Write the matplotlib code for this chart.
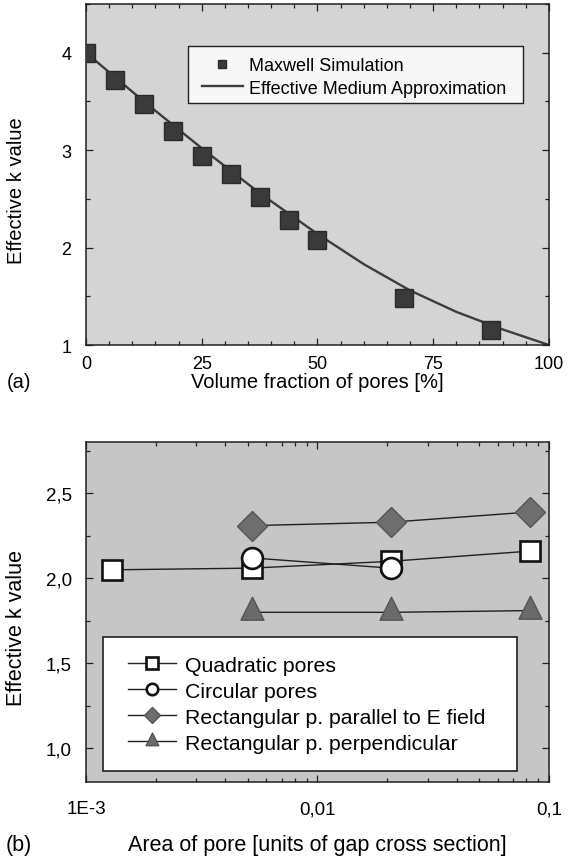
import matplotlib
matplotlib.use("Agg")
import matplotlib.pyplot as plt
from matplotlib.patches import Rectangle
from matplotlib.path import Path
from matplotlib.ticker import MultipleLocator, FixedLocator, FuncFormatter, LogLocator, NullFormatter

plt.rcParams['font.family'] = ['Liberation Sans', 'DejaVu Sans']

# --- (a) effective k vs volume fraction ---
vol_frac = [0, 6.25, 12.5, 18.75, 25, 31.25, 37.5, 43.75, 50, 68.75, 87.5]
k_maxwell = [4.0, 3.72, 3.47, 3.20, 2.94, 2.76, 2.52, 2.28, 2.08, 1.48, 1.15]
ema_frac = [0, 6.25, 12.5, 18.75, 25, 31.25, 37.5, 43.75, 50, 60, 70, 80, 90, 100]
k_ema = [4.0, 3.75, 3.50, 3.26, 3.02, 2.79, 2.56, 2.35, 2.14, 1.83, 1.56, 1.34, 1.16, 1.0]

# --- (b) effective k vs pore area ---
area_quad = [0.0013, 0.0052, 0.0207, 0.0827]
k_quad = [2.05, 2.06, 2.10, 2.16]
area_circ = [0.0052, 0.0207]
k_circ = [2.12, 2.06]
area_rect = [0.0052, 0.0207, 0.0827]
k_par = [2.31, 2.33, 2.39]
k_perp = [1.80, 1.80, 1.81]

# triangle anchored at its centroid (like the original software draws it)
tri = Path([(0, 1.33), (-1, -0.67), (1, -0.67), (0, 1.33)],
           [Path.MOVETO, Path.LINETO, Path.LINETO, Path.CLOSEPOLY])

fig = plt.figure(figsize=(5.68, 8.62), dpi=100)
ax1 = fig.add_axes([0.1514, 0.5986, 0.815, 0.3956])
ax2 = fig.add_axes([0.1514, 0.0913, 0.815, 0.3944])


def style_axes(ax, face, tick_fs, pad_x, pad_y):
    ax.set_facecolor(face)
    for s in ax.spines.values():
        s.set_linewidth(1.1)
        s.set_color('#202020')
    ax.tick_params(which='both', direction='in', top=True, right=True,
                   color='#202020', width=0.9)
    ax.tick_params(which='major', length=5, labelsize=tick_fs)
    ax.tick_params(which='minor', length=3)
    ax.tick_params(axis='x', which='major', pad=pad_x)
    ax.tick_params(axis='y', which='major', pad=pad_y)


# --- panel (a) ---
style_axes(ax1, '#d4d4d4', 13, 7.5, 10.5)
ax1.plot(ema_frac, k_ema, color='#3c3c3c', lw=1.7, label='Effective Medium Approximation', zorder=2)
ax1.plot(vol_frac, k_maxwell, ls='none', marker='s', ms=12.5, mfc='#3a3a3a', mec='#2a2a2a',
         label='Maxwell Simulation', zorder=3)
ax1.set_xlim(0, 100)
ax1.set_ylim(1, 4.5)
ax1.xaxis.set_major_locator(MultipleLocator(25))
ax1.xaxis.set_minor_locator(MultipleLocator(5))
ax1.yaxis.set_major_locator(FixedLocator([1, 2, 3, 4]))
ax1.yaxis.set_minor_locator(MultipleLocator(0.5))

ax1.set_xlabel('Volume fraction of pores [%]', fontsize=14.5)
ax1.xaxis.set_label_coords(0.5, -0.108)
ax1.xaxis.label.set_verticalalignment('center')
ax1.set_ylabel('Effective k value', fontsize=14.5)
ax1.yaxis.set_label_coords(-0.151, 0.455)
ax1.yaxis.label.set_verticalalignment('center')

ax1.add_patch(Rectangle((0.221, 0.710), 0.722, 0.166, transform=ax1.transAxes,
                        facecolor='#f7f7f7', edgecolor='#202020', lw=1.0, zorder=4))
h1 = ax1.get_legend_handles_labels()
leg1 = ax1.legend([h1[0][1], h1[0][0]], [h1[1][1], h1[1][0]], loc='upper left',
                  bbox_to_anchor=(0.250, 0.845), frameon=False, fontsize=13,
                  handlelength=2.3, handletextpad=0.3, labelspacing=0.32,
                  borderpad=0, borderaxespad=0, markerscale=0.46)
leg1.set_zorder(5)

# --- panel (b) ---
style_axes(ax2, '#c6c6c6', 13.5, 13, 10)
ax2.set_xscale('log')
ax2.plot(area_quad, k_quad, color='#202020', lw=1.0, marker='s', ms=14.5, mfc='white',
         mec='#111111', mew=1.9, label='Quadratic pores', zorder=3)
ax2.plot(area_circ, k_circ, color='#202020', lw=1.0, marker='o', ms=15, mfc='white',
         mec='#111111', mew=1.9, label='Circular pores', zorder=3)
ax2.plot(area_rect, k_par, color='#202020', lw=1.0, marker='D', ms=15.5, mfc='#6e6e6e',
         mec='#555555', mew=1.0, label='Rectangular p. parallel to E field', zorder=3)
ax2.plot(area_rect, k_perp, color='#202020', lw=1.0, marker=tri, ms=22, mfc='#6a6a6a',
         mec='#555555', mew=1.0, label='Rectangular p. perpendicular', zorder=3)
ax2.set_xlim(1e-3, 0.1)
ax2.set_ylim(0.8, 2.8)
ax2.xaxis.set_major_locator(FixedLocator([1e-3, 1e-2, 1e-1]))
ax2.xaxis.set_minor_locator(LogLocator(base=10, subs=range(2, 10)))
ax2.xaxis.set_minor_formatter(NullFormatter())
ax2.xaxis.set_major_formatter(FuncFormatter(lambda v, p: {0: '1E-3', 1: '0,01', 2: '0,1'}[p]))
ax2.yaxis.set_major_locator(FixedLocator([1.0, 1.5, 2.0, 2.5]))
ax2.yaxis.set_minor_locator(MultipleLocator(0.25))
ax2.yaxis.set_major_formatter(FuncFormatter(lambda v, p: f'{v:.1f}'.replace('.', ',')))

ax2.set_xlabel('Area of pore [units of gap cross section]', fontsize=15.5)
ax2.xaxis.set_label_coords(0.5, -0.184)
ax2.xaxis.label.set_verticalalignment('center')
ax2.set_ylabel('Effective k value', fontsize=15.5)
ax2.yaxis.set_label_coords(-0.151, 0.457)
ax2.yaxis.label.set_verticalalignment('center')

ax2.add_patch(Rectangle((0.036, 0.034), 0.894, 0.394, transform=ax2.transAxes,
                        facecolor='white', edgecolor='#202020', lw=1.2, zorder=4))
leg2 = ax2.legend(loc='upper left', bbox_to_anchor=(0.0914, 0.372), frameon=False,
                  fontsize=15.3, handlelength=2.25, handletextpad=0.4, labelspacing=0.33,
                  borderpad=0, borderaxespad=0, markerscale=0.55)
leg2.set_zorder(5)

fig.text(19 / 568, 1 - 383 / 862, '(a)', fontsize=14.5, ha='center', va='center')
fig.text(19 / 568, 1 - 846 / 862, '(b)', fontsize=15.5, ha='center', va='center')

fig.savefig('out.png', dpi=100, facecolor='white')
